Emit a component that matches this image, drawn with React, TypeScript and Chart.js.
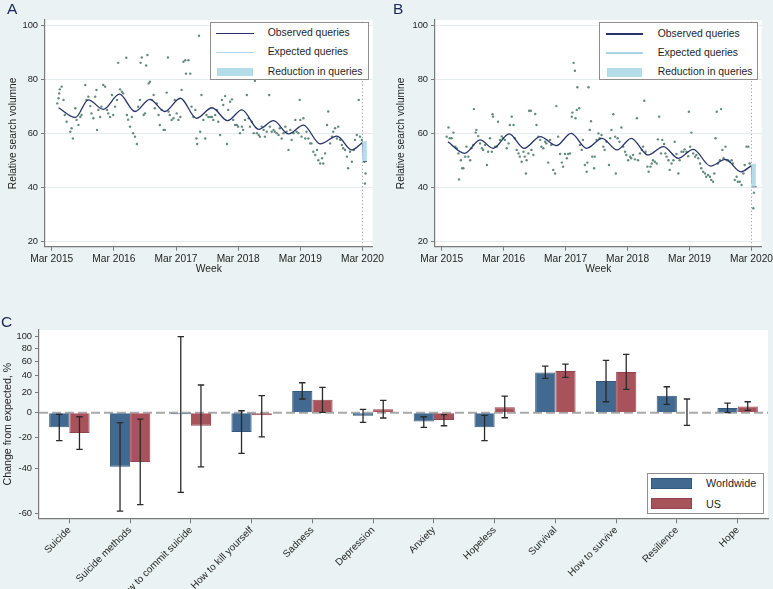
import React, { useEffect, useRef } from 'react';
import { Chart, registerables } from 'chart.js';
Chart.register(...registerables);

const FONT = "'Liberation Sans', Arial, Helvetica, sans-serif";
const BG = '#eaf2f3';
const TXT = '#1f1f1f';
const AXIS = '#7a7a7a';

// ---------- Panels A & B (x = years since Mar 2015) ----------
const yearTicks = [0, 1, 2, 3, 4, 5];
const yearTickLabels = ['Mar 2015', 'Mar 2016', 'Mar 2017', 'Mar 2018', 'Mar 2019', 'Mar 2020'];
const volumeTicks = [20, 40, 60, 80, 100];
const lockdownX = 5;

const weeklyA: [number, number][] = [
  [0.09,71.0],[0.11,72.9],[0.12,74.7],[0.13,76.2],[0.16,77.2],[0.19,72.3],[0.21,66.7],[0.24,64.2],[0.30,60.5],[0.32,61.8],
  [0.34,58.0],[0.38,69.2],[0.40,64.9],[0.43,63.0],[0.46,66.0],[0.48,66.7],[0.54,77.8],[0.56,72.3],[0.59,73.5],[0.62,70.0],
  [0.64,67.3],[0.67,65.5],[0.70,73.5],[0.72,76.0],[0.73,61.2],[0.75,68.6],[0.78,66.0],[0.80,69.8],[0.83,77.8],[0.86,77.2],
  [0.89,68.6],[0.91,67.3],[0.94,66.0],[0.97,74.1],[0.99,66.7],[1.02,69.8],[1.05,72.3],[1.07,86.0],[1.10,76.2],[1.13,75.3],
  [1.15,74.7],[1.20,87.9],[1.21,66.7],[1.23,65.0],[1.26,62.4],[1.29,66.0],[1.31,60.0],[1.34,58.7],[1.37,56.0],[1.39,69.8],
  [1.42,72.3],[1.43,86.0],[1.45,88.0],[1.48,66.7],[1.50,67.3],[1.52,85.0],[1.54,88.9],[1.56,78.4],[1.58,79.0],[1.61,72.3],
  [1.64,74.1],[1.66,69.2],[1.69,71.0],[1.72,66.7],[1.74,63.0],[1.77,68.6],[1.80,61.2],[1.82,61.2],[1.85,75.0],[1.87,88.0],
  [1.88,68.0],[1.90,66.7],[1.93,64.9],[1.96,65.5],[1.98,72.3],[2.01,67.3],[2.04,64.9],[2.07,66.0],[2.09,76.0],[2.12,86.4],
  [2.15,87.0],[2.16,82.0],[2.20,87.0],[2.23,82.0],[2.25,69.8],[2.28,66.0],[2.31,68.6],[2.33,58.0],[2.34,56.0],[2.37,96.0],
  [2.39,60.5],[2.41,74.1],[2.44,64.9],[2.47,58.0],[2.49,66.7],[2.52,66.0],[2.55,66.0],[2.58,66.0],[2.60,64.9],[2.63,66.7],
  [2.66,68.6],[2.68,64.2],[2.71,59.3],[2.74,72.3],[2.76,70.4],[2.79,73.7],[2.82,56.0],[2.84,68.6],[2.87,71.6],[2.90,72.5],
  [2.92,64.9],[2.95,63.0],[2.98,63.0],[3.00,62.4],[3.03,60.0],[3.06,62.4],[3.08,61.2],[3.11,64.9],[3.14,74.1],[3.17,65.5],
  [3.19,62.4],[3.22,64.2],[3.25,60.0],[3.27,79.4],[3.30,60.0],[3.33,59.3],[3.35,58.7],[3.38,62.4],[3.41,61.2],[3.43,58.7],
  [3.46,60.5],[3.50,74.1],[3.51,62.4],[3.54,60.5],[3.57,61.2],[3.59,60.5],[3.62,60.0],[3.65,59.3],[3.67,61.8],[3.70,58.0],
  [3.73,60.0],[3.76,62.4],[3.78,60.5],[3.81,53.8],[3.84,61.2],[3.86,57.5],[3.89,60.0],[3.92,64.9],[3.94,60.5],[3.97,60.0],
  [3.99,72.3],[4.00,64.9],[4.02,58.7],[4.05,65.5],[4.08,58.0],[4.10,60.5],[4.13,58.0],[4.16,56.2],[4.18,56.2],[4.21,53.1],
  [4.24,51.9],[4.27,53.8],[4.29,50.0],[4.32,48.8],[4.35,50.7],[4.37,48.8],[4.40,52.5],[4.43,63.0],[4.45,68.0],[4.48,56.2],
  [4.51,58.7],[4.53,60.5],[4.56,61.8],[4.59,58.0],[4.61,62.4],[4.64,57.5],[4.67,55.6],[4.69,54.4],[4.72,53.8],[4.75,51.3],
  [4.77,47.0],[4.80,53.1],[4.83,49.4],[4.86,53.8],[4.88,57.5],[4.91,59.3],[4.94,72.3],[4.96,58.7],[4.99,57.5],[5.03,49.4],
  [5.04,41.4],[5.05,45.1],
];
const observedA: [number, number][] = [
  [0.11,69.4],[0.38,65.8],[0.59,72.3],[0.83,68.8],[1.09,74.4],[1.34,68.0],[1.58,72.5],[1.82,68.0],[2.07,72.9],[2.33,65.5],
  [2.58,69.4],[2.83,64.6],[3.06,68.6],[3.33,61.4],[3.57,64.6],[3.81,59.7],[4.05,63.0],[4.32,56.0],[4.59,58.9],[4.83,53.8],[5.0,56.5],
];
const observedEndA: [number, number][] = [[5.0,56.5],[5.02,49.6],[5.07,49.6]];
const expectedEndA: [number, number][] = [[5.0,56.5],[5.07,57.0]];
const reductionA: [number, number][] = [[5.033,49.6],[5.033,56.9]];

const weeklyB: [number, number][] = [
  [0.08,58.7],[0.11,62.1],[0.13,58.1],[0.16,58.1],[0.19,60.2],[0.22,55.0],[0.24,54.4],[0.27,52.5],[0.28,42.9],[0.31,50.0],
  [0.33,47.0],[0.35,47.0],[0.38,51.3],[0.40,55.0],[0.43,51.3],[0.46,50.0],[0.48,54.4],[0.51,55.6],[0.52,68.9],[0.55,60.2],
  [0.56,61.2],[0.59,58.9],[0.62,56.2],[0.65,54.4],[0.67,53.8],[0.70,55.6],[0.73,48.2],[0.75,53.1],[0.78,58.1],[0.81,53.1],
  [0.82,67.0],[0.83,66.1],[0.86,55.0],[0.89,55.0],[0.91,64.2],[0.94,57.5],[0.97,58.8],[0.99,58.1],[1.02,57.5],[1.05,54.4],
  [1.08,56.2],[1.10,63.0],[1.13,66.1],[1.16,63.0],[1.18,58.1],[1.21,53.8],[1.24,52.5],[1.26,51.3],[1.29,49.4],[1.32,53.1],
  [1.34,51.3],[1.36,45.1],[1.37,50.0],[1.40,52.5],[1.41,68.3],[1.44,68.3],[1.45,53.8],[1.48,51.9],[1.51,67.1],[1.53,63.0],
  [1.56,58.7],[1.59,57.5],[1.61,55.0],[1.64,54.4],[1.67,56.8],[1.69,56.2],[1.72,49.1],[1.75,57.5],[1.77,55.6],[1.80,46.4],
  [1.83,45.1],[1.85,70.0],[1.88,58.7],[1.91,52.3],[1.94,49.1],[1.96,47.6],[1.99,52.3],[2.02,50.7],[2.04,52.3],[2.07,52.5],
  [2.10,66.1],[2.11,67.6],[2.13,86.0],[2.15,83.1],[2.16,65.5],[2.18,68.6],[2.19,77.0],[2.22,69.2],[2.23,55.6],[2.26,53.8],
  [2.28,57.5],[2.31,48.2],[2.34,45.7],[2.35,49.1],[2.37,77.0],[2.39,61.2],[2.41,64.4],[2.43,51.3],[2.46,47.0],[2.47,51.3],
  [2.50,57.5],[2.53,59.9],[2.55,58.1],[2.58,59.3],[2.61,55.0],[2.63,53.8],[2.66,56.8],[2.70,48.2],[2.72,58.1],[2.74,61.2],
  [2.77,67.0],[2.80,58.7],[2.81,45.1],[2.84,58.1],[2.87,56.8],[2.90,62.1],[2.93,55.0],[2.96,53.1],[2.98,51.9],[3.01,50.0],
  [3.04,51.3],[3.06,50.7],[3.09,51.9],[3.12,50.3],[3.15,65.5],[3.17,50.0],[3.20,52.5],[3.23,53.8],[3.25,55.0],[3.27,72.0],
  [3.29,53.1],[3.32,47.6],[3.34,45.7],[3.37,47.6],[3.39,48.8],[3.41,50.0],[3.44,49.4],[3.47,48.8],[3.49,57.7],[3.51,66.1],
  [3.54,52.5],[3.56,57.5],[3.59,56.0],[3.61,52.5],[3.63,51.3],[3.66,50.0],[3.68,46.4],[3.71,48.8],[3.74,50.0],[3.76,56.8],
  [3.79,52.3],[3.82,45.1],[3.84,50.0],[3.87,53.1],[3.90,53.1],[3.92,54.0],[3.95,53.1],[3.98,51.5],[3.99,67.9],[4.01,55.0],
  [4.03,60.2],[4.06,52.5],[4.09,51.3],[4.11,51.9],[4.14,50.7],[4.17,48.8],[4.19,47.0],[4.22,45.7],[4.25,45.1],[4.27,43.9],
  [4.30,44.5],[4.33,43.9],[4.35,42.7],[4.38,42.0],[4.40,45.1],[4.42,58.1],[4.44,67.9],[4.46,48.8],[4.49,50.0],[4.51,68.9],
  [4.53,53.8],[4.55,50.7],[4.58,55.0],[4.60,50.0],[4.62,50.0],[4.65,49.4],[4.68,50.0],[4.70,48.8],[4.73,42.7],[4.76,43.9],
  [4.78,42.0],[4.81,42.0],[4.84,40.8],[4.87,45.1],[4.89,48.2],[4.92,55.0],[4.95,55.0],[4.97,48.8],[5.01,42.0],[5.03,40.8],
  [5.04,38.0],[5.03,32.2],
];
const observedB: [number, number][] = [
  [0.10,56.8],[0.37,52.5],[0.62,57.5],[0.83,54.4],[1.09,59.7],[1.33,54.4],[1.59,58.7],[1.85,55.4],[2.09,59.9],[2.34,54.4],
  [2.59,58.1],[2.83,53.8],[3.06,58.1],[3.33,51.9],[3.58,55.0],[3.82,50.7],[4.06,54.0],[4.34,47.8],[4.58,50.3],[4.83,45.7],[5.0,48.0],
];
const observedEndB: [number, number][] = [[5.0,48.0],[5.02,40.2],[5.08,40.2]];
const expectedEndB: [number, number][] = [[5.0,48.0],[5.07,48.6]];
const reductionB: [number, number][] = [[5.033,40.2],[5.033,48.6]];

// ---------- Panel C ----------
const categories = ['Suicide', 'Suicide methods', 'How to commit suicide', 'How to kill yourself', 'Sadness', 'Depression',
  'Anxiety', 'Hopeless', 'Survival', 'How to survive', 'Resilience', 'Hope'];
const worldwide = [-12.5, -38.9, -1.5, -16.2, 21.8, -2.7, -7.6, -12.5, 44.4, 33.5, 16.8, 4.3];
const worldwideLow = [-22.5, -59.2, -51.6, -31.0, 13.3, -8.4, -12.5, -22.5, 36.7, 10.5, 7.9, 0.0];
const worldwideHigh = [-1.5, -8.7, 99.9, 1.8, 31.4, 3.1, -3.6, -2.4, 53.0, 61.1, 26.7, 9.2];
const us = [-16.9, -36.2, -11.2, -2.4, 12.6, 3.1, -6.5, 5.0, 46.2, 44.9, 0.4, 5.9];
const usLow = [-28.4, -56.7, -38.9, -19.7, 0.3, -4.7, -11.2, -4.5, 38.0, 23.7, -10.9, 2.1];
const usHigh = [-3.6, -5.6, 28.7, 16.8, 26.0, 11.9, -1.8, 16.4, 55.8, 70.2, 13.3, 10.5];
const changeTicks = [100, 80, 60, 40, 20, 0, -20, -40, -60];

const toLog = (v: number) => Math.log(1 + v / 100);
const fromLog = (v: number) => Math.round(100 * (Math.exp(v) - 1));

const plotBg = {
  id: 'plotBg',
  beforeDraw(chart: any) {
    const { ctx, chartArea } = chart;
    ctx.save();
    ctx.fillStyle = '#ffffff';
    ctx.fillRect(chartArea.left, chartArea.top, chartArea.right - chartArea.left, chartArea.bottom - chartArea.top);
    ctx.restore();
  },
};

const Y_MIN = 18;
const Y_MAX = 101.85;

function timeConfig(
  weekly: [number, number][], observed: [number, number][], obsEnd: [number, number][],
  expEnd: [number, number][], reduction: [number, number][], yAxisWidth: number, padRight: number, titlePad: number,
): any {
  const xy = (a: [number, number][]) => a.map(([x, y]) => ({ x, y }));
  const navy = '#26336a';
  return {
    type: 'scatter',
    data: {
      datasets: [
        { data: xy(reduction), showLine: true, borderColor: '#b5dce9', borderWidth: 4.5, borderCapStyle: 'butt', pointRadius: 0, order: 1 },
        { data: xy(observed), showLine: true, borderColor: navy, borderWidth: 1.3, pointRadius: 0, cubicInterpolationMode: 'monotone', order: 2 },
        { data: xy(obsEnd), showLine: true, borderColor: navy, borderWidth: 1.3, pointRadius: 0, tension: 0, order: 2 },
        { data: xy(expEnd), showLine: true, borderColor: '#a9d6e6', borderWidth: 1.3, pointRadius: 0, order: 3 },
        { data: [{ x: lockdownX, y: Y_MIN }, { x: lockdownX, y: Y_MAX }], showLine: true, borderColor: '#8c8c8c', borderWidth: 1, borderDash: [1, 2.5], pointRadius: 0, order: 4 },
        { data: xy(weekly), pointRadius: 1.2, pointBackgroundColor: '#628a7d', pointBorderWidth: 0, order: 5 },
      ],
    },
    options: {
      animation: false,
      responsive: false,
      events: [],
      layout: { padding: { top: 20, right: padRight, left: 0, bottom: 0 } },
      plugins: { legend: { display: false }, tooltip: { enabled: false } },
      scales: {
        x: {
          type: 'linear', min: -0.108, max: 5.165,
          afterBuildTicks: (s: any) => { s.ticks = yearTicks.map((v) => ({ value: v })); },
          afterFit: (s: any) => { s.height = 43.3; s.paddingLeft = 0; s.paddingRight = 0; },
          ticks: {
            autoSkip: false, maxRotation: 0, minRotation: 0, padding: 2, color: TXT,
            font: { family: FONT, size: 10.2 },
            callback: (v: number) => { const i = yearTicks.indexOf(v); return i >= 0 ? yearTickLabels[i] : ''; },
          },
          grid: { drawOnChartArea: false, tickLength: 4, tickColor: AXIS },
          border: { color: AXIS, width: 1.2 },
          title: { display: true, text: 'Week', color: TXT, font: { family: FONT, size: 10.3 }, padding: { top: 0, bottom: 14.4 } },
        },
        y: {
          type: 'linear', min: Y_MIN, max: Y_MAX,
          afterBuildTicks: (s: any) => { s.ticks = volumeTicks.map((v) => ({ value: v })); },
          afterFit: (s: any) => { s.width = yAxisWidth; s.paddingTop = 0; s.paddingBottom = 0; },
          ticks: { padding: 3, color: TXT, font: { family: FONT, size: 9.3 } },
          grid: { color: '#e3edf0', lineWidth: 1, tickLength: 4, tickColor: AXIS },
          border: { color: AXIS, width: 1.2 },
          title: { display: true, text: 'Relative search volumne', color: TXT, font: { family: FONT, size: 10.2 }, padding: { top: titlePad, bottom: 0 } },
        },
      },
    },
    plugins: [plotBg],
  };
}

const zeroLine = {
  id: 'zeroLine',
  beforeDatasetsDraw(chart: any) {
    const { ctx, chartArea } = chart;
    const y0 = chart.scales.y.getPixelForValue(0);
    ctx.save();
    ctx.strokeStyle = '#a9a9a9';
    ctx.lineWidth = 2;
    ctx.setLineDash([9, 4]);
    ctx.beginPath();
    ctx.moveTo(chartArea.left, y0);
    ctx.lineTo(chartArea.right, y0);
    ctx.stroke();
    ctx.restore();
  },
};

const errorBars = {
  id: 'errorBars',
  afterDatasetsDraw(chart: any) {
    const { ctx } = chart;
    const ys = chart.scales.y;
    const ranges = [[worldwideLow, worldwideHigh], [usLow, usHigh]];
    ranges.forEach(([lo, hi], di) => {
      const meta = chart.getDatasetMeta(di);
      meta.data.forEach((bar: any, i: number) => {
        const x = bar.x;
        const y1 = ys.getPixelForValue(toLog(lo[i]));
        const y2 = ys.getPixelForValue(toLog(hi[i]));
        ctx.save();
        ctx.strokeStyle = '#2a2a2a';
        ctx.lineWidth = 1.3;
        ctx.beginPath();
        ctx.moveTo(x, y1); ctx.lineTo(x, y2);
        ctx.moveTo(x - 3.2, y1); ctx.lineTo(x + 3.2, y1);
        ctx.moveTo(x - 3.2, y2); ctx.lineTo(x + 3.2, y2);
        ctx.stroke();
        ctx.restore();
      });
    });
  },
};

function barConfig(): any {
  return {
    type: 'bar',
    data: {
      labels: categories,
      datasets: [
        { label: 'Worldwide', data: worldwide.map(toLog), backgroundColor: '#42698f', borderColor: '#35597c', borderWidth: 1, categoryPercentage: 0.665, barPercentage: 1 },
        { label: 'US', data: us.map(toLog), backgroundColor: '#a8535c', borderColor: '#94444e', borderWidth: 1, categoryPercentage: 0.665, barPercentage: 1 },
      ],
    },
    options: {
      animation: false,
      responsive: false,
      events: [],
      layout: { padding: { top: 30, right: 5, left: 0, bottom: 0 } },
      plugins: { legend: { display: false }, tooltip: { enabled: false } },
      scales: {
        x: {
          type: 'category', offset: true,
          afterFit: (s: any) => { s.height = 70.7; s.paddingLeft = 0; s.paddingRight = 0; },
          ticks: { autoSkip: false, minRotation: 45, maxRotation: 45, padding: 1, color: TXT, font: { family: FONT, size: 10 } },
          grid: { offset: false, drawOnChartArea: false, tickLength: 5, tickColor: AXIS },
          border: { color: AXIS, width: 1.2 },
        },
        y: {
          type: 'linear', min: -0.962, max: 0.7535,
          afterBuildTicks: (s: any) => { s.ticks = changeTicks.map((v) => ({ value: toLog(v) })); },
          afterFit: (s: any) => { s.width = 39; s.paddingTop = 0; s.paddingBottom = 0; },
          ticks: { padding: 3, color: TXT, font: { family: FONT, size: 9.3 }, callback: (v: number) => String(fromLog(v)) },
          grid: { drawOnChartArea: false, tickLength: 4, tickColor: AXIS },
          border: { color: AXIS, width: 1.2 },
          title: { display: true, text: 'Change from expected, %', color: TXT, font: { family: FONT, size: 10.6 }, padding: { top: 1.5, bottom: 0 } },
        },
      },
    },
    plugins: [plotBg, zeroLine, errorBars],
  };
}

function ChartCanvas({ make, left, top, width, height }: { make: () => any; left: number; top: number; width: number; height: number }) {
  const ref = useRef<HTMLCanvasElement>(null);
  useEffect(() => {
    const chart = new Chart(ref.current as HTMLCanvasElement, make());
    return () => chart.destroy();
  }, []);
  return <canvas ref={ref} width={width} height={height} style={{ position: 'absolute', left, top, width, height }} />;
}

const legendText: React.CSSProperties = { position: 'absolute', fontSize: 10.4, lineHeight: '12px', color: TXT, whiteSpace: 'nowrap' };

function TimeLegend({ left, top, symLeft, symRight, textLeft }: { left: number; top: number; symLeft: number; symRight: number; textLeft: number }) {
  const rows = [10.8, 29.8, 49.2];
  return (
    <div style={{ position: 'absolute', left, top, width: 159, height: 58, background: '#fff', border: '1px solid #8f8f8f', boxSizing: 'border-box' }}>
      <div style={{ position: 'absolute', left: symLeft, width: symRight - symLeft, top: rows[0] - 0.7, height: 1.4, background: '#26336a' }} />
      <div style={{ position: 'absolute', left: symLeft, width: symRight - symLeft, top: rows[1] - 0.6, height: 1.2, background: '#a9d6e6' }} />
      <div style={{ position: 'absolute', left: symLeft + 1, width: symRight - symLeft - 2, top: rows[2] - 4.3, height: 8.6, background: '#b5dce9' }} />
      <span style={{ ...legendText, left: textLeft, top: rows[0] - 6 }}>Observed queries</span>
      <span style={{ ...legendText, left: textLeft, top: rows[1] - 6 }}>Expected queries</span>
      <span style={{ ...legendText, left: textLeft, top: rows[2] - 6 }}>Reduction in queries</span>
    </div>
  );
}

function BarLegend() {
  return (
    <div style={{ position: 'absolute', left: 646.7, top: 473.3, width: 117.3, height: 40.7, background: '#fff', border: '1px solid #8f8f8f', boxSizing: 'border-box' }}>
      <div style={{ position: 'absolute', left: 3.5, top: 3.7, width: 41, height: 11, background: '#42698f', border: '1px solid #35597c', boxSizing: 'border-box' }} />
      <div style={{ position: 'absolute', left: 3.5, top: 24, width: 41, height: 11, background: '#a8535c', border: '1px solid #94444e', boxSizing: 'border-box' }} />
      <span style={{ ...legendText, fontSize: 10.8, left: 58.3, top: 3.2 }}>Worldwide</span>
      <span style={{ ...legendText, fontSize: 10.8, left: 58.3, top: 23.5 }}>US</span>
    </div>
  );
}

const panelLetter: React.CSSProperties = { position: 'absolute', fontSize: 15.5, lineHeight: '15px', color: '#1c2757', fontFamily: FONT };

export default function App() {
  return (
    <div style={{ position: 'fixed', left: 0, top: 0, width: 773, height: 589, background: BG, fontFamily: FONT, overflow: 'hidden' }}>
      <ChartCanvas left={0} top={0} width={386} height={290}
        make={() => timeConfig(weeklyA, observedA, observedEndA, expectedEndA, reductionA, 45, 13.3, 6.6)} />
      <ChartCanvas left={386} top={0} width={387} height={290}
        make={() => timeConfig(weeklyB, observedB, observedEndB, expectedEndB, reductionB, 49, 11.3, 8.8)} />
      <ChartCanvas left={0} top={300} width={773} height={289} make={barConfig} />
      <TimeLegend left={210} top={21.7} symLeft={5} symRight={43} textLeft={56.7} />
      <TimeLegend left={599.3} top={22.3} symLeft={5.7} symRight={42.4} textLeft={57.4} />
      <BarLegend />
      <div style={{ ...panelLetter, left: 7, top: 0.7 }}>A</div>
      <div style={{ ...panelLetter, left: 393, top: 0.7 }}>B</div>
      <div style={{ ...panelLetter, left: 1, top: 313.5 }}>C</div>
    </div>
  );
}
